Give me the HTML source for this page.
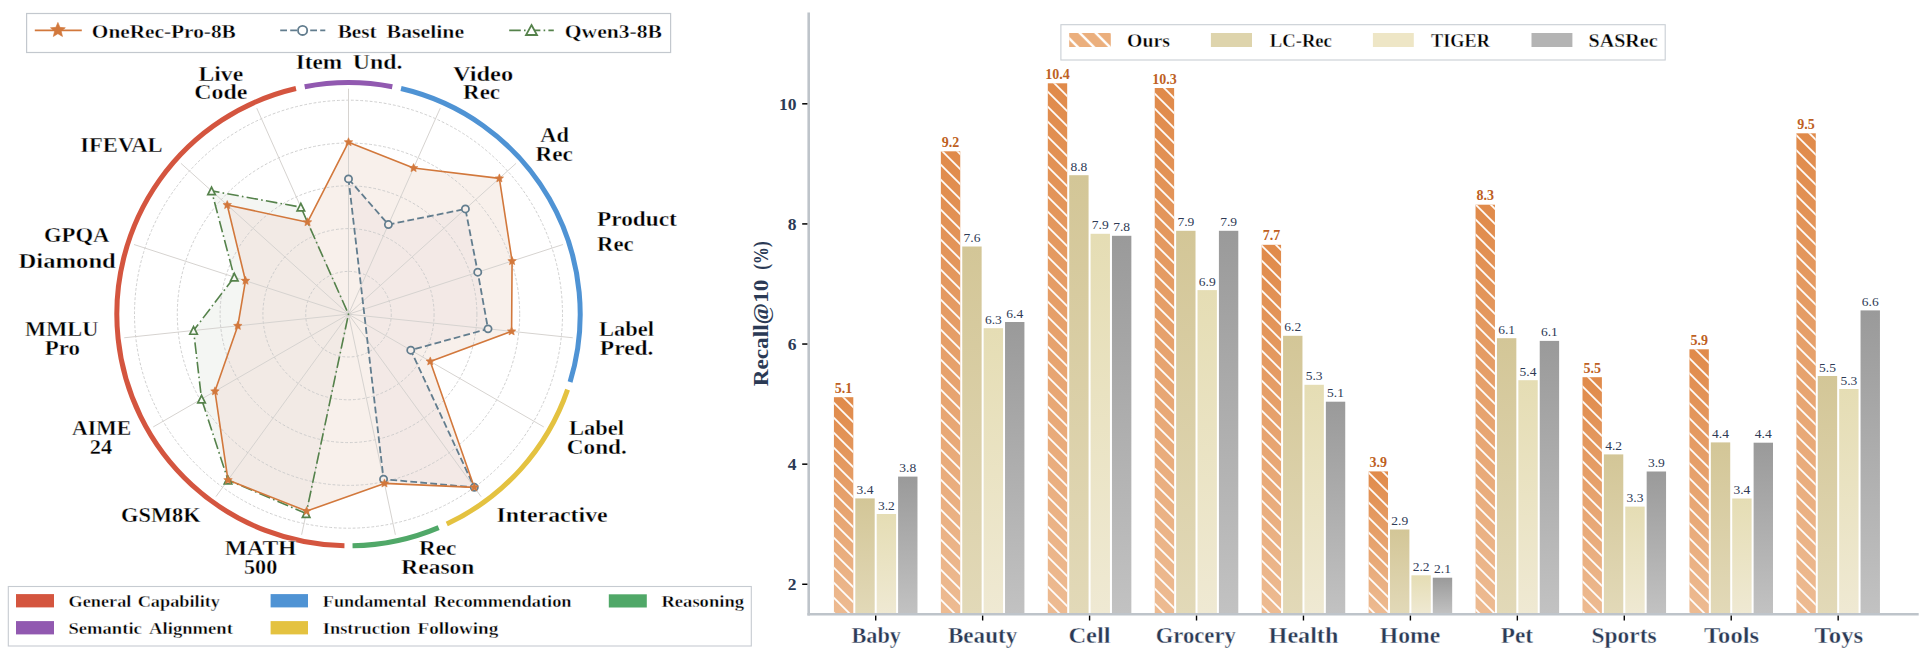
<!DOCTYPE html>
<html><head><meta charset="utf-8"><style>
html,body{margin:0;padding:0;background:#fff;}
svg{display:block;}
text{font-family:"Liberation Serif", serif;}
</style></head><body>
<svg width="1926" height="652" viewBox="0 0 1926 652">
<rect width="1926" height="652" fill="#fff"/>
<defs>
<clipPath id="qclip"><path d="M306.13,513.55 L228.00,480.05 L201.54,399.05 L193.55,330.49 L234.28,277.09 L211.54,190.88 L300.83,207.13 L348.50,314.20 Z"/></clipPath>
<linearGradient id="g0" x1="0" y1="0" x2="0" y2="1"><stop offset="0" stop-color="#e08a4a"/><stop offset="1" stop-color="#edbb92"/></linearGradient>
<linearGradient id="g1" x1="0" y1="0" x2="0" y2="1"><stop offset="0" stop-color="#d3c697"/><stop offset="1" stop-color="#e2d9b8"/></linearGradient>
<linearGradient id="g2" x1="0" y1="0" x2="0" y2="1"><stop offset="0" stop-color="#e5ddb4"/><stop offset="1" stop-color="#efe9d3"/></linearGradient>
<linearGradient id="g3" x1="0" y1="0" x2="0" y2="1"><stop offset="0" stop-color="#9a9a9a"/><stop offset="1" stop-color="#c2c2c2"/></linearGradient>
<pattern id="hatch" patternUnits="userSpaceOnUse" width="15.0" height="15.0" x="0" y="3.9"><path d="M-2,-2 L17.0,17.0 M-17.0,-2 L2,17.0" stroke="#fff" stroke-width="1.7"/><path d="M13.0,-2 L32.0,17.0" stroke="#fff" stroke-width="1.7"/></pattern>
<pattern id="hatchL" patternUnits="userSpaceOnUse" width="16" height="16" x="0" y="9.2"><path d="M-2,-2 L18,18 M-18,-2 L2,18 M14,-2 L34,18" stroke="#fff" stroke-width="2.4"/></pattern>
</defs>
<path d="M348.50,142.20 L413.58,168.03 L499.36,178.37 L512.08,261.05 L511.60,331.34 L430.25,361.40 L474.29,487.33 L384.47,483.42 L306.65,511.10 L228.00,480.05 L214.96,391.30 L237.81,325.83 L245.50,280.73 L227.22,205.00 L307.54,222.21 Z" fill="#f8f0eb"/>
<path d="M306.13,513.55 L228.00,480.05 L201.54,399.05 L193.55,330.49 L234.28,277.09 L211.54,190.88 L300.83,207.13 L348.50,314.20 Z" fill="#f4f6f3"/>
<path d="M348.50,142.20 L413.58,168.03 L499.36,178.37 L512.08,261.05 L511.60,331.34 L430.25,361.40 L474.29,487.33 L384.47,483.42 L306.65,511.10 L228.00,480.05 L214.96,391.30 L237.81,325.83 L245.50,280.73 L227.22,205.00 L307.54,222.21 Z" fill="#f2eae5" clip-path="url(#qclip)"/>
<path d="M348.50,178.90 L388.40,224.58 L465.40,208.95 L477.75,272.20 L488.03,328.87 L410.77,350.15 L474.29,487.33 L383.57,479.21 Z" fill="#f3e9e6"/>
<circle cx="348.5" cy="314.2" r="42.80" fill="none" stroke="#c9c9c9" stroke-width="0.9" stroke-dasharray="2.8 1.9"/>
<circle cx="348.5" cy="314.2" r="85.60" fill="none" stroke="#c9c9c9" stroke-width="0.9" stroke-dasharray="2.8 1.9"/>
<circle cx="348.5" cy="314.2" r="128.40" fill="none" stroke="#c9c9c9" stroke-width="0.9" stroke-dasharray="2.8 1.9"/>
<circle cx="348.5" cy="314.2" r="171.20" fill="none" stroke="#c9c9c9" stroke-width="0.9" stroke-dasharray="2.8 1.9"/>
<circle cx="348.5" cy="314.2" r="214.00" fill="none" stroke="#c9c9c9" stroke-width="0.9" stroke-dasharray="2.8 1.9"/>
<line x1="348.5" y1="314.2" x2="348.50" y2="88.70" stroke="#d6d3d0" stroke-width="1"/>
<line x1="348.5" y1="314.2" x2="440.22" y2="108.20" stroke="#d6d3d0" stroke-width="1"/>
<line x1="348.5" y1="314.2" x2="516.08" y2="163.31" stroke="#d6d3d0" stroke-width="1"/>
<line x1="348.5" y1="314.2" x2="562.96" y2="244.52" stroke="#d6d3d0" stroke-width="1"/>
<line x1="348.5" y1="314.2" x2="572.76" y2="337.77" stroke="#d6d3d0" stroke-width="1"/>
<line x1="348.5" y1="314.2" x2="543.79" y2="426.95" stroke="#d6d3d0" stroke-width="1"/>
<line x1="348.5" y1="314.2" x2="481.05" y2="496.63" stroke="#d6d3d0" stroke-width="1"/>
<line x1="348.5" y1="314.2" x2="395.38" y2="534.77" stroke="#d6d3d0" stroke-width="1"/>
<line x1="348.5" y1="314.2" x2="301.62" y2="534.77" stroke="#d6d3d0" stroke-width="1"/>
<line x1="348.5" y1="314.2" x2="215.95" y2="496.63" stroke="#d6d3d0" stroke-width="1"/>
<line x1="348.5" y1="314.2" x2="153.21" y2="426.95" stroke="#d6d3d0" stroke-width="1"/>
<line x1="348.5" y1="314.2" x2="124.24" y2="337.77" stroke="#d6d3d0" stroke-width="1"/>
<line x1="348.5" y1="314.2" x2="134.04" y2="244.52" stroke="#d6d3d0" stroke-width="1"/>
<line x1="348.5" y1="314.2" x2="180.92" y2="163.31" stroke="#d6d3d0" stroke-width="1"/>
<line x1="348.5" y1="314.2" x2="256.78" y2="108.20" stroke="#d6d3d0" stroke-width="1"/>
<path d="M304.69,86.68 A231.7,231.7 0 0 1 392.31,86.68" fill="none" stroke="#9159b0" stroke-width="5"/>
<path d="M401.02,88.53 A231.7,231.7 0 0 1 570.08,381.94" fill="none" stroke="#4f93d4" stroke-width="5"/>
<path d="M567.58,389.63 A231.7,231.7 0 0 1 446.79,524.02" fill="none" stroke="#e4c240" stroke-width="5"/>
<path d="M438.66,527.64 A231.7,231.7 0 0 1 352.54,545.86" fill="none" stroke="#50a868" stroke-width="5"/>
<path d="M344.46,545.86 A231.7,231.7 0 0 1 295.98,88.53" fill="none" stroke="#d4553f" stroke-width="5"/>
<path d="M306.13,513.55 L228.00,480.05 L201.54,399.05 L193.55,330.49 L234.28,277.09 L211.54,190.88 L300.83,207.13 L348.50,314.20 Z" fill="none" stroke="#55824b" stroke-width="1.6" stroke-dasharray="11.6 3.2 1.6 3.2" stroke-linejoin="round"/>
<path d="M348.50,178.90 L388.40,224.58 L465.40,208.95 L477.75,272.20 L488.03,328.87 L410.77,350.15 L474.29,487.33 L383.57,479.21 Z" fill="none" stroke="#627d8e" stroke-width="1.8" stroke-dasharray="6.8 3.2" stroke-linejoin="round"/>
<path d="M348.50,142.20 L413.58,168.03 L499.36,178.37 L512.08,261.05 L511.60,331.34 L430.25,361.40 L474.29,487.33 L384.47,483.42 L306.65,511.10 L228.00,480.05 L214.96,391.30 L237.81,325.83 L245.50,280.73 L227.22,205.00 L307.54,222.21 Z" fill="none" stroke="#d2783c" stroke-width="1.6" stroke-linejoin="round"/>
<path d="M306.13,509.80 L309.88,517.30 L302.38,517.30 Z" fill="#f8f9f6" stroke="#55824b" stroke-width="1.7" stroke-linejoin="miter"/>
<path d="M228.00,476.30 L231.75,483.80 L224.25,483.80 Z" fill="#f8f9f6" stroke="#55824b" stroke-width="1.7" stroke-linejoin="miter"/>
<path d="M201.54,395.30 L205.29,402.80 L197.79,402.80 Z" fill="#f8f9f6" stroke="#55824b" stroke-width="1.7" stroke-linejoin="miter"/>
<path d="M193.55,326.74 L197.30,334.24 L189.80,334.24 Z" fill="#f8f9f6" stroke="#55824b" stroke-width="1.7" stroke-linejoin="miter"/>
<path d="M234.28,273.34 L238.03,280.84 L230.53,280.84 Z" fill="#f8f9f6" stroke="#55824b" stroke-width="1.7" stroke-linejoin="miter"/>
<path d="M211.54,187.13 L215.29,194.63 L207.79,194.63 Z" fill="#f8f9f6" stroke="#55824b" stroke-width="1.7" stroke-linejoin="miter"/>
<path d="M300.83,203.38 L304.58,210.88 L297.08,210.88 Z" fill="#f8f9f6" stroke="#55824b" stroke-width="1.7" stroke-linejoin="miter"/>
<circle cx="348.50" cy="178.90" r="3.6" fill="#f6eeea" stroke="#627d8e" stroke-width="1.75"/>
<circle cx="388.40" cy="224.58" r="3.6" fill="#f6eeea" stroke="#627d8e" stroke-width="1.75"/>
<circle cx="465.40" cy="208.95" r="3.6" fill="#f6eeea" stroke="#627d8e" stroke-width="1.75"/>
<circle cx="477.75" cy="272.20" r="3.6" fill="#f6eeea" stroke="#627d8e" stroke-width="1.75"/>
<circle cx="488.03" cy="328.87" r="3.6" fill="#f6eeea" stroke="#627d8e" stroke-width="1.75"/>
<circle cx="410.77" cy="350.15" r="3.6" fill="#f6eeea" stroke="#627d8e" stroke-width="1.75"/>
<circle cx="474.29" cy="487.33" r="3.6" fill="#f6eeea" stroke="#627d8e" stroke-width="1.75"/>
<circle cx="383.57" cy="479.21" r="3.6" fill="#f6eeea" stroke="#627d8e" stroke-width="1.75"/>
<path d="M348.50,137.70 L349.74,140.49 L352.78,140.81 L350.51,142.85 L351.15,145.84 L348.50,144.31 L345.85,145.84 L346.49,142.85 L344.22,140.81 L347.26,140.49 Z" fill="#d2783c" stroke="#d2783c" stroke-width="0.5" stroke-linejoin="round"/>
<path d="M413.58,163.53 L414.82,166.32 L417.86,166.64 L415.59,168.69 L416.22,171.67 L413.58,170.15 L410.93,171.67 L411.57,168.69 L409.30,166.64 L412.33,166.32 Z" fill="#d2783c" stroke="#d2783c" stroke-width="0.5" stroke-linejoin="round"/>
<path d="M499.36,173.87 L500.60,176.66 L503.64,176.98 L501.37,179.02 L502.00,182.01 L499.36,180.48 L496.71,182.01 L497.35,179.02 L495.08,176.98 L498.12,176.66 Z" fill="#d2783c" stroke="#d2783c" stroke-width="0.5" stroke-linejoin="round"/>
<path d="M512.08,256.55 L513.32,259.34 L516.36,259.66 L514.09,261.70 L514.73,264.69 L512.08,263.16 L509.44,264.69 L510.07,261.70 L507.80,259.66 L510.84,259.34 Z" fill="#d2783c" stroke="#d2783c" stroke-width="0.5" stroke-linejoin="round"/>
<path d="M511.60,326.84 L512.84,329.63 L515.88,329.95 L513.61,332.00 L514.25,334.98 L511.60,333.46 L508.96,334.98 L509.59,332.00 L507.32,329.95 L510.36,329.63 Z" fill="#d2783c" stroke="#d2783c" stroke-width="0.5" stroke-linejoin="round"/>
<path d="M430.25,356.90 L431.50,359.69 L434.53,360.01 L432.26,362.05 L432.90,365.04 L430.25,363.51 L427.61,365.04 L428.24,362.05 L425.97,360.01 L429.01,359.69 Z" fill="#d2783c" stroke="#d2783c" stroke-width="0.5" stroke-linejoin="round"/>
<path d="M474.29,482.83 L475.53,485.62 L478.57,485.94 L476.30,487.98 L476.93,490.97 L474.29,489.44 L471.64,490.97 L472.27,487.98 L470.01,485.94 L473.04,485.62 Z" fill="#d2783c" stroke="#d2783c" stroke-width="0.5" stroke-linejoin="round"/>
<path d="M384.47,478.92 L385.71,481.71 L388.75,482.03 L386.48,484.07 L387.11,487.06 L384.47,485.53 L381.82,487.06 L382.46,484.07 L380.19,482.03 L383.23,481.71 Z" fill="#d2783c" stroke="#d2783c" stroke-width="0.5" stroke-linejoin="round"/>
<path d="M306.65,506.60 L307.89,509.39 L310.93,509.71 L308.66,511.75 L309.29,514.74 L306.65,513.22 L304.00,514.74 L304.64,511.75 L302.37,509.71 L305.40,509.39 Z" fill="#d2783c" stroke="#d2783c" stroke-width="0.5" stroke-linejoin="round"/>
<path d="M228.00,475.55 L229.25,478.34 L232.28,478.66 L230.02,480.70 L230.65,483.69 L228.00,482.16 L225.36,483.69 L225.99,480.70 L223.72,478.66 L226.76,478.34 Z" fill="#d2783c" stroke="#d2783c" stroke-width="0.5" stroke-linejoin="round"/>
<path d="M214.96,386.80 L216.20,389.59 L219.24,389.91 L216.97,391.95 L217.60,394.94 L214.96,393.42 L212.31,394.94 L212.95,391.95 L210.68,389.91 L213.72,389.59 Z" fill="#d2783c" stroke="#d2783c" stroke-width="0.5" stroke-linejoin="round"/>
<path d="M237.81,321.33 L239.05,324.12 L242.09,324.44 L239.82,326.49 L240.45,329.47 L237.81,327.95 L235.16,329.47 L235.80,326.49 L233.53,324.44 L236.57,324.12 Z" fill="#d2783c" stroke="#d2783c" stroke-width="0.5" stroke-linejoin="round"/>
<path d="M245.50,276.23 L246.74,279.02 L249.78,279.34 L247.51,281.39 L248.15,284.37 L245.50,282.85 L242.86,284.37 L243.49,281.39 L241.22,279.34 L244.26,279.02 Z" fill="#d2783c" stroke="#d2783c" stroke-width="0.5" stroke-linejoin="round"/>
<path d="M227.22,200.50 L228.46,203.29 L231.50,203.61 L229.23,205.65 L229.86,208.64 L227.22,207.11 L224.57,208.64 L225.21,205.65 L222.94,203.61 L225.98,203.29 Z" fill="#d2783c" stroke="#d2783c" stroke-width="0.5" stroke-linejoin="round"/>
<path d="M307.54,217.71 L308.78,220.49 L311.82,220.82 L309.55,222.86 L310.19,225.85 L307.54,224.32 L304.90,225.85 L305.53,222.86 L303.26,220.82 L306.30,220.49 Z" fill="#d2783c" stroke="#d2783c" stroke-width="0.5" stroke-linejoin="round"/>
<rect x="26.6" y="13.5" width="644.0" height="39.0" fill="#fff" fill-opacity="0.9" stroke="#c3c8ce" stroke-width="1.2"/>
<line x1="34.8" y1="30.4" x2="81.8" y2="30.4" stroke="#d2783c" stroke-width="1.6"/>
<path d="M57.90,22.40 L59.96,27.36 L65.32,27.79 L61.24,31.28 L62.48,36.51 L57.90,33.71 L53.32,36.51 L54.56,31.28 L50.48,27.79 L55.84,27.36 Z" fill="#d2783c" stroke="#d2783c" stroke-width="0.6" stroke-linejoin="round"/>
<line x1="280.2" y1="30.4" x2="325.3" y2="30.4" stroke="#627d8e" stroke-width="1.6" stroke-dasharray="6.8 3.2"/>
<circle cx="302.6" cy="30.4" r="4.6" fill="#fff" stroke="#627d8e" stroke-width="1.8"/>
<line x1="509.2" y1="30.4" x2="553.8" y2="30.4" stroke="#55824b" stroke-width="1.6" stroke-dasharray="11.6 3.2 1.6 3.2"/>
<path d="M531.5,25 L537,35 L526,35 Z" fill="#fff" stroke="#55824b" stroke-width="1.8"/>
<rect x="8.3" y="586.5" width="743.0" height="59.5" fill="#fff" fill-opacity="0.9" stroke="#c6cbd1" stroke-width="1.1"/>
<rect x="16" y="594.1" width="38.0" height="13.3" fill="#d4553f"/>
<rect x="16" y="621.1" width="38.0" height="13.3" fill="#9159b0"/>
<rect x="270.6" y="594.1" width="37.4" height="13.3" fill="#4f93d4"/>
<rect x="270.6" y="621.1" width="37.4" height="13.3" fill="#e4c240"/>
<rect x="608.8" y="594.3" width="38.0" height="13.2" fill="#50a868"/>
<rect x="833.92" y="397.20" width="19.39" height="217.00" fill="url(#g0)"/>
<rect x="833.92" y="397.20" width="19.39" height="217.00" fill="url(#hatch)"/>
<text x="843.62" y="392.70" text-anchor="middle" font-family="Liberation Serif" font-weight="bold" font-size="14" fill="#be5f23">5.1</text>
<rect x="855.31" y="498.40" width="19.39" height="115.80" fill="url(#g1)"/>
<text x="865.01" y="493.90" text-anchor="middle" font-family="Liberation Serif" font-size="13.5" fill="#2e3a55">3.4</text>
<rect x="876.70" y="514.00" width="19.39" height="100.20" fill="url(#g2)"/>
<text x="886.39" y="509.50" text-anchor="middle" font-family="Liberation Serif" font-size="13.5" fill="#2e3a55">3.2</text>
<rect x="898.09" y="476.60" width="19.39" height="137.60" fill="url(#g3)"/>
<text x="907.78" y="472.10" text-anchor="middle" font-family="Liberation Serif" font-size="13.5" fill="#2e3a55">3.8</text>
<line x1="875.70" y1="615.3" x2="875.70" y2="620.5" stroke="#000" stroke-width="1.4"/>
<rect x="940.86" y="151.30" width="19.39" height="462.90" fill="url(#g0)"/>
<rect x="940.86" y="151.30" width="19.39" height="462.90" fill="url(#hatch)"/>
<text x="950.56" y="146.80" text-anchor="middle" font-family="Liberation Serif" font-weight="bold" font-size="14" fill="#be5f23">9.2</text>
<rect x="962.25" y="246.50" width="19.39" height="367.70" fill="url(#g1)"/>
<text x="971.95" y="242.00" text-anchor="middle" font-family="Liberation Serif" font-size="13.5" fill="#2e3a55">7.6</text>
<rect x="983.64" y="328.20" width="19.39" height="286.00" fill="url(#g2)"/>
<text x="993.33" y="323.70" text-anchor="middle" font-family="Liberation Serif" font-size="13.5" fill="#2e3a55">6.3</text>
<rect x="1005.03" y="322.00" width="19.39" height="292.20" fill="url(#g3)"/>
<text x="1014.72" y="317.50" text-anchor="middle" font-family="Liberation Serif" font-size="13.5" fill="#2e3a55">6.4</text>
<line x1="982.64" y1="615.3" x2="982.64" y2="620.5" stroke="#000" stroke-width="1.4"/>
<rect x="1047.80" y="83.30" width="19.39" height="530.90" fill="url(#g0)"/>
<rect x="1047.80" y="83.30" width="19.39" height="530.90" fill="url(#hatch)"/>
<text x="1057.50" y="78.80" text-anchor="middle" font-family="Liberation Serif" font-weight="bold" font-size="14" fill="#be5f23">10.4</text>
<rect x="1069.19" y="175.20" width="19.39" height="439.00" fill="url(#g1)"/>
<text x="1078.89" y="170.70" text-anchor="middle" font-family="Liberation Serif" font-size="13.5" fill="#2e3a55">8.8</text>
<rect x="1090.58" y="233.80" width="19.39" height="380.40" fill="url(#g2)"/>
<text x="1100.27" y="229.30" text-anchor="middle" font-family="Liberation Serif" font-size="13.5" fill="#2e3a55">7.9</text>
<rect x="1111.97" y="235.80" width="19.39" height="378.40" fill="url(#g3)"/>
<text x="1121.66" y="231.30" text-anchor="middle" font-family="Liberation Serif" font-size="13.5" fill="#2e3a55">7.8</text>
<line x1="1089.58" y1="615.3" x2="1089.58" y2="620.5" stroke="#000" stroke-width="1.4"/>
<rect x="1154.74" y="88.00" width="19.39" height="526.20" fill="url(#g0)"/>
<rect x="1154.74" y="88.00" width="19.39" height="526.20" fill="url(#hatch)"/>
<text x="1164.44" y="83.50" text-anchor="middle" font-family="Liberation Serif" font-weight="bold" font-size="14" fill="#be5f23">10.3</text>
<rect x="1176.13" y="230.80" width="19.39" height="383.40" fill="url(#g1)"/>
<text x="1185.83" y="226.30" text-anchor="middle" font-family="Liberation Serif" font-size="13.5" fill="#2e3a55">7.9</text>
<rect x="1197.52" y="290.10" width="19.39" height="324.10" fill="url(#g2)"/>
<text x="1207.21" y="285.60" text-anchor="middle" font-family="Liberation Serif" font-size="13.5" fill="#2e3a55">6.9</text>
<rect x="1218.91" y="230.80" width="19.39" height="383.40" fill="url(#g3)"/>
<text x="1228.60" y="226.30" text-anchor="middle" font-family="Liberation Serif" font-size="13.5" fill="#2e3a55">7.9</text>
<line x1="1196.52" y1="615.3" x2="1196.52" y2="620.5" stroke="#000" stroke-width="1.4"/>
<rect x="1261.68" y="244.80" width="19.39" height="369.40" fill="url(#g0)"/>
<rect x="1261.68" y="244.80" width="19.39" height="369.40" fill="url(#hatch)"/>
<text x="1271.38" y="240.30" text-anchor="middle" font-family="Liberation Serif" font-weight="bold" font-size="14" fill="#be5f23">7.7</text>
<rect x="1283.07" y="335.80" width="19.39" height="278.40" fill="url(#g1)"/>
<text x="1292.77" y="331.30" text-anchor="middle" font-family="Liberation Serif" font-size="13.5" fill="#2e3a55">6.2</text>
<rect x="1304.46" y="384.80" width="19.39" height="229.40" fill="url(#g2)"/>
<text x="1314.15" y="380.30" text-anchor="middle" font-family="Liberation Serif" font-size="13.5" fill="#2e3a55">5.3</text>
<rect x="1325.85" y="401.70" width="19.39" height="212.50" fill="url(#g3)"/>
<text x="1335.54" y="397.20" text-anchor="middle" font-family="Liberation Serif" font-size="13.5" fill="#2e3a55">5.1</text>
<line x1="1303.46" y1="615.3" x2="1303.46" y2="620.5" stroke="#000" stroke-width="1.4"/>
<rect x="1368.62" y="471.40" width="19.39" height="142.80" fill="url(#g0)"/>
<rect x="1368.62" y="471.40" width="19.39" height="142.80" fill="url(#hatch)"/>
<text x="1378.32" y="466.90" text-anchor="middle" font-family="Liberation Serif" font-weight="bold" font-size="14" fill="#be5f23">3.9</text>
<rect x="1390.01" y="529.50" width="19.39" height="84.70" fill="url(#g1)"/>
<text x="1399.71" y="525.00" text-anchor="middle" font-family="Liberation Serif" font-size="13.5" fill="#2e3a55">2.9</text>
<rect x="1411.40" y="575.30" width="19.39" height="38.90" fill="url(#g2)"/>
<text x="1421.09" y="570.80" text-anchor="middle" font-family="Liberation Serif" font-size="13.5" fill="#2e3a55">2.2</text>
<rect x="1432.79" y="577.70" width="19.39" height="36.50" fill="url(#g3)"/>
<text x="1442.48" y="573.20" text-anchor="middle" font-family="Liberation Serif" font-size="13.5" fill="#2e3a55">2.1</text>
<line x1="1410.40" y1="615.3" x2="1410.40" y2="620.5" stroke="#000" stroke-width="1.4"/>
<rect x="1475.56" y="204.70" width="19.39" height="409.50" fill="url(#g0)"/>
<rect x="1475.56" y="204.70" width="19.39" height="409.50" fill="url(#hatch)"/>
<text x="1485.26" y="200.20" text-anchor="middle" font-family="Liberation Serif" font-weight="bold" font-size="14" fill="#be5f23">8.3</text>
<rect x="1496.95" y="338.20" width="19.39" height="276.00" fill="url(#g1)"/>
<text x="1506.65" y="333.70" text-anchor="middle" font-family="Liberation Serif" font-size="13.5" fill="#2e3a55">6.1</text>
<rect x="1518.34" y="380.20" width="19.39" height="234.00" fill="url(#g2)"/>
<text x="1528.03" y="375.70" text-anchor="middle" font-family="Liberation Serif" font-size="13.5" fill="#2e3a55">5.4</text>
<rect x="1539.73" y="340.90" width="19.39" height="273.30" fill="url(#g3)"/>
<text x="1549.42" y="336.40" text-anchor="middle" font-family="Liberation Serif" font-size="13.5" fill="#2e3a55">6.1</text>
<line x1="1517.34" y1="615.3" x2="1517.34" y2="620.5" stroke="#000" stroke-width="1.4"/>
<rect x="1582.50" y="377.20" width="19.39" height="237.00" fill="url(#g0)"/>
<rect x="1582.50" y="377.20" width="19.39" height="237.00" fill="url(#hatch)"/>
<text x="1592.20" y="372.70" text-anchor="middle" font-family="Liberation Serif" font-weight="bold" font-size="14" fill="#be5f23">5.5</text>
<rect x="1603.89" y="454.40" width="19.39" height="159.80" fill="url(#g1)"/>
<text x="1613.59" y="449.90" text-anchor="middle" font-family="Liberation Serif" font-size="13.5" fill="#2e3a55">4.2</text>
<rect x="1625.28" y="506.60" width="19.39" height="107.60" fill="url(#g2)"/>
<text x="1634.97" y="502.10" text-anchor="middle" font-family="Liberation Serif" font-size="13.5" fill="#2e3a55">3.3</text>
<rect x="1646.67" y="471.50" width="19.39" height="142.70" fill="url(#g3)"/>
<text x="1656.36" y="467.00" text-anchor="middle" font-family="Liberation Serif" font-size="13.5" fill="#2e3a55">3.9</text>
<line x1="1624.28" y1="615.3" x2="1624.28" y2="620.5" stroke="#000" stroke-width="1.4"/>
<rect x="1689.44" y="349.30" width="19.39" height="264.90" fill="url(#g0)"/>
<rect x="1689.44" y="349.30" width="19.39" height="264.90" fill="url(#hatch)"/>
<text x="1699.14" y="344.80" text-anchor="middle" font-family="Liberation Serif" font-weight="bold" font-size="14" fill="#be5f23">5.9</text>
<rect x="1710.83" y="442.40" width="19.39" height="171.80" fill="url(#g1)"/>
<text x="1720.53" y="437.90" text-anchor="middle" font-family="Liberation Serif" font-size="13.5" fill="#2e3a55">4.4</text>
<rect x="1732.22" y="498.50" width="19.39" height="115.70" fill="url(#g2)"/>
<text x="1741.91" y="494.00" text-anchor="middle" font-family="Liberation Serif" font-size="13.5" fill="#2e3a55">3.4</text>
<rect x="1753.61" y="442.70" width="19.39" height="171.50" fill="url(#g3)"/>
<text x="1763.30" y="438.20" text-anchor="middle" font-family="Liberation Serif" font-size="13.5" fill="#2e3a55">4.4</text>
<line x1="1731.22" y1="615.3" x2="1731.22" y2="620.5" stroke="#000" stroke-width="1.4"/>
<rect x="1796.38" y="133.30" width="19.39" height="480.90" fill="url(#g0)"/>
<rect x="1796.38" y="133.30" width="19.39" height="480.90" fill="url(#hatch)"/>
<text x="1806.08" y="128.80" text-anchor="middle" font-family="Liberation Serif" font-weight="bold" font-size="14" fill="#be5f23">9.5</text>
<rect x="1817.77" y="376.00" width="19.39" height="238.20" fill="url(#g1)"/>
<text x="1827.47" y="371.50" text-anchor="middle" font-family="Liberation Serif" font-size="13.5" fill="#2e3a55">5.5</text>
<rect x="1839.16" y="389.00" width="19.39" height="225.20" fill="url(#g2)"/>
<text x="1848.85" y="384.50" text-anchor="middle" font-family="Liberation Serif" font-size="13.5" fill="#2e3a55">5.3</text>
<rect x="1860.55" y="310.40" width="19.39" height="303.80" fill="url(#g3)"/>
<text x="1870.24" y="305.90" text-anchor="middle" font-family="Liberation Serif" font-size="13.5" fill="#2e3a55">6.6</text>
<line x1="1838.16" y1="615.3" x2="1838.16" y2="620.5" stroke="#000" stroke-width="1.4"/>
<line x1="808.7" y1="12.5" x2="808.7" y2="615.4" stroke="#bec4ca" stroke-width="2.6"/>
<line x1="807.4" y1="614.2" x2="1918.7" y2="614.2" stroke="#bec4ca" stroke-width="2.6"/>
<line x1="802.2" y1="584.28" x2="807.4" y2="584.28" stroke="#000" stroke-width="1.5"/>
<text x="796.4" y="590.18" text-anchor="end" font-family="Liberation Serif" font-weight="bold" font-size="17.5" fill="#2b3a55">2</text>
<line x1="802.2" y1="464.16" x2="807.4" y2="464.16" stroke="#000" stroke-width="1.5"/>
<text x="796.4" y="470.06" text-anchor="end" font-family="Liberation Serif" font-weight="bold" font-size="17.5" fill="#2b3a55">4</text>
<line x1="802.2" y1="344.04" x2="807.4" y2="344.04" stroke="#000" stroke-width="1.5"/>
<text x="796.4" y="349.94" text-anchor="end" font-family="Liberation Serif" font-weight="bold" font-size="17.5" fill="#2b3a55">6</text>
<line x1="802.2" y1="223.92" x2="807.4" y2="223.92" stroke="#000" stroke-width="1.5"/>
<text x="796.4" y="229.82" text-anchor="end" font-family="Liberation Serif" font-weight="bold" font-size="17.5" fill="#2b3a55">8</text>
<line x1="802.2" y1="103.80" x2="807.4" y2="103.80" stroke="#000" stroke-width="1.5"/>
<text x="796.4" y="109.70" text-anchor="end" font-family="Liberation Serif" font-weight="bold" font-size="17.5" fill="#2b3a55">10</text>
<rect x="1060.9" y="24.7" width="604.3" height="35.3" fill="#fff" fill-opacity="0.9" stroke="#c9ced4" stroke-width="1.1"/>
<rect x="1069.2" y="33" width="41.6" height="14" fill="#ebaf7d"/>
<rect x="1069.2" y="33" width="41.6" height="14" fill="url(#hatchL)"/>
<rect x="1210.9" y="33" width="41.1" height="14" fill="#ded4ac"/>
<rect x="1372.9" y="33" width="40.9" height="14" fill="#eee6c6"/>
<rect x="1531.5" y="33" width="40.9" height="14" fill="#b4b4b4"/>
<text x="295.74" y="68.70" font-family="Liberation Serif" font-size="22" font-weight="bold" fill="#000" textLength="46.44" lengthAdjust="spacingAndGlyphs" stroke="#fff" stroke-width="0.35">Item</text>
<text x="352.72" y="68.70" font-family="Liberation Serif" font-size="22" font-weight="bold" fill="#000" textLength="49.72" lengthAdjust="spacingAndGlyphs" stroke="#fff" stroke-width="0.35">Und.</text>
<text x="198.53" y="80.50" font-family="Liberation Serif" font-size="22" font-weight="bold" fill="#000" textLength="44.68" lengthAdjust="spacingAndGlyphs" stroke="#fff" stroke-width="0.35">Live</text>
<text x="194.21" y="99.20" font-family="Liberation Serif" font-size="22" font-weight="bold" fill="#000" textLength="53.16" lengthAdjust="spacingAndGlyphs" stroke="#fff" stroke-width="0.35">Code</text>
<text x="452.90" y="80.50" font-family="Liberation Serif" font-size="22" font-weight="bold" fill="#000" textLength="60.22" lengthAdjust="spacingAndGlyphs" stroke="#fff" stroke-width="0.35">Video</text>
<text x="463.06" y="99.20" font-family="Liberation Serif" font-size="22" font-weight="bold" fill="#000" textLength="36.98" lengthAdjust="spacingAndGlyphs" stroke="#fff" stroke-width="0.35">Rec</text>
<text x="540.30" y="141.80" font-family="Liberation Serif" font-size="22" font-weight="bold" fill="#000" textLength="28.63" lengthAdjust="spacingAndGlyphs" stroke="#fff" stroke-width="0.35">Ad</text>
<text x="535.54" y="160.60" font-family="Liberation Serif" font-size="22" font-weight="bold" fill="#000" textLength="37.40" lengthAdjust="spacingAndGlyphs" stroke="#fff" stroke-width="0.35">Rec</text>
<text x="597.04" y="225.90" font-family="Liberation Serif" font-size="22" font-weight="bold" fill="#000" textLength="79.86" lengthAdjust="spacingAndGlyphs" stroke="#fff" stroke-width="0.35">Product</text>
<text x="597.07" y="250.80" font-family="Liberation Serif" font-size="22" font-weight="bold" fill="#000" textLength="36.57" lengthAdjust="spacingAndGlyphs" stroke="#fff" stroke-width="0.35">Rec</text>
<text x="599.08" y="335.90" font-family="Liberation Serif" font-size="22" font-weight="bold" fill="#000" textLength="54.93" lengthAdjust="spacingAndGlyphs" stroke="#fff" stroke-width="0.35">Label</text>
<text x="599.83" y="354.90" font-family="Liberation Serif" font-size="22" font-weight="bold" fill="#000" textLength="53.67" lengthAdjust="spacingAndGlyphs" stroke="#fff" stroke-width="0.35">Pred.</text>
<text x="569.08" y="434.90" font-family="Liberation Serif" font-size="22" font-weight="bold" fill="#000" textLength="54.93" lengthAdjust="spacingAndGlyphs" stroke="#fff" stroke-width="0.35">Label</text>
<text x="566.74" y="453.90" font-family="Liberation Serif" font-size="22" font-weight="bold" fill="#000" textLength="60.06" lengthAdjust="spacingAndGlyphs" stroke="#fff" stroke-width="0.35">Cond.</text>
<text x="496.52" y="521.90" font-family="Liberation Serif" font-size="22" font-weight="bold" fill="#000" textLength="111.16" lengthAdjust="spacingAndGlyphs" stroke="#fff" stroke-width="0.35">Interactive</text>
<text x="418.94" y="555.00" font-family="Liberation Serif" font-size="22" font-weight="bold" fill="#000" textLength="37.40" lengthAdjust="spacingAndGlyphs" stroke="#fff" stroke-width="0.35">Rec</text>
<text x="401.33" y="573.70" font-family="Liberation Serif" font-size="22" font-weight="bold" fill="#000" textLength="72.95" lengthAdjust="spacingAndGlyphs" stroke="#fff" stroke-width="0.35">Reason</text>
<text x="224.83" y="554.90" font-family="Liberation Serif" font-size="22" font-weight="bold" fill="#000" textLength="71.64" lengthAdjust="spacingAndGlyphs" stroke="#fff" stroke-width="0.35">MATH</text>
<text x="243.99" y="573.50" font-family="Liberation Serif" font-size="22" font-weight="bold" fill="#000" textLength="33.32" lengthAdjust="spacingAndGlyphs" stroke="#fff" stroke-width="0.35">500</text>
<text x="121.08" y="521.70" font-family="Liberation Serif" font-size="22" font-weight="bold" fill="#000" textLength="79.56" lengthAdjust="spacingAndGlyphs" stroke="#fff" stroke-width="0.35">GSM8K</text>
<text x="72.10" y="434.90" font-family="Liberation Serif" font-size="22" font-weight="bold" fill="#000" textLength="59.18" lengthAdjust="spacingAndGlyphs" stroke="#fff" stroke-width="0.35">AIME</text>
<text x="89.68" y="453.90" font-family="Liberation Serif" font-size="22" font-weight="bold" fill="#000" textLength="22.42" lengthAdjust="spacingAndGlyphs" stroke="#fff" stroke-width="0.35">24</text>
<text x="25.08" y="335.90" font-family="Liberation Serif" font-size="22" font-weight="bold" fill="#000" textLength="73.21" lengthAdjust="spacingAndGlyphs" stroke="#fff" stroke-width="0.35">MMLU</text>
<text x="44.66" y="354.60" font-family="Liberation Serif" font-size="22" font-weight="bold" fill="#000" textLength="35.19" lengthAdjust="spacingAndGlyphs" stroke="#fff" stroke-width="0.35">Pro</text>
<text x="43.97" y="241.90" font-family="Liberation Serif" font-size="22" font-weight="bold" fill="#000" textLength="65.51" lengthAdjust="spacingAndGlyphs" stroke="#fff" stroke-width="0.35">GPQA</text>
<text x="18.58" y="267.90" font-family="Liberation Serif" font-size="22" font-weight="bold" fill="#000" textLength="97.21" lengthAdjust="spacingAndGlyphs" stroke="#fff" stroke-width="0.35">Diamond</text>
<text x="80.27" y="151.60" font-family="Liberation Serif" font-size="22" font-weight="bold" fill="#000" textLength="82.36" lengthAdjust="spacingAndGlyphs" stroke="#fff" stroke-width="0.35">IFEVAL</text>
<text x="91.81" y="37.90" font-family="Liberation Serif" font-size="19.5" font-weight="bold" fill="#000" textLength="144.05" lengthAdjust="spacingAndGlyphs" stroke="#fff" stroke-width="0.35">OneRec-Pro-8B</text>
<text x="337.70" y="37.90" font-family="Liberation Serif" font-size="19.5" font-weight="bold" fill="#000" textLength="38.92" lengthAdjust="spacingAndGlyphs" stroke="#fff" stroke-width="0.35">Best</text>
<text x="386.60" y="37.90" font-family="Liberation Serif" font-size="19.5" font-weight="bold" fill="#000" textLength="77.48" lengthAdjust="spacingAndGlyphs" stroke="#fff" stroke-width="0.35">Baseline</text>
<text x="564.79" y="37.90" font-family="Liberation Serif" font-size="19.5" font-weight="bold" fill="#000" textLength="97.24" lengthAdjust="spacingAndGlyphs" stroke="#fff" stroke-width="0.35">Qwen3-8B</text>
<text x="68.55" y="607.00" font-family="Liberation Serif" font-size="17.4" font-weight="bold" fill="#000" textLength="62.78" lengthAdjust="spacingAndGlyphs" stroke="#fff" stroke-width="0.35">General</text>
<text x="137.65" y="607.00" font-family="Liberation Serif" font-size="17.4" font-weight="bold" fill="#000" textLength="82.35" lengthAdjust="spacingAndGlyphs" stroke="#fff" stroke-width="0.35">Capability</text>
<text x="68.53" y="634.00" font-family="Liberation Serif" font-size="17.4" font-weight="bold" fill="#000" textLength="73.30" lengthAdjust="spacingAndGlyphs" stroke="#fff" stroke-width="0.35">Semantic</text>
<text x="149.10" y="634.00" font-family="Liberation Serif" font-size="17.4" font-weight="bold" fill="#000" textLength="83.78" lengthAdjust="spacingAndGlyphs" stroke="#fff" stroke-width="0.35">Alignment</text>
<text x="322.86" y="607.00" font-family="Liberation Serif" font-size="17.4" font-weight="bold" fill="#000" textLength="103.80" lengthAdjust="spacingAndGlyphs" stroke="#fff" stroke-width="0.35">Fundamental</text>
<text x="433.84" y="607.00" font-family="Liberation Serif" font-size="17.4" font-weight="bold" fill="#000" textLength="137.70" lengthAdjust="spacingAndGlyphs" stroke="#fff" stroke-width="0.35">Recommendation</text>
<text x="322.85" y="633.80" font-family="Liberation Serif" font-size="17.4" font-weight="bold" fill="#000" textLength="87.57" lengthAdjust="spacingAndGlyphs" stroke="#fff" stroke-width="0.35">Instruction</text>
<text x="417.60" y="633.80" font-family="Liberation Serif" font-size="17.4" font-weight="bold" fill="#000" textLength="80.68" lengthAdjust="spacingAndGlyphs" stroke="#fff" stroke-width="0.35">Following</text>
<text x="661.43" y="607.00" font-family="Liberation Serif" font-size="17.4" font-weight="bold" fill="#000" textLength="82.60" lengthAdjust="spacingAndGlyphs" stroke="#fff" stroke-width="0.35">Reasoning</text>
<text x="1127.05" y="47.20" font-family="Liberation Serif" font-size="18.8" font-weight="bold" fill="#000" textLength="42.79" lengthAdjust="spacingAndGlyphs" stroke="#fff" stroke-width="0.35">Ours</text>
<text x="1269.80" y="47.20" font-family="Liberation Serif" font-size="18.8" font-weight="bold" fill="#000" textLength="62.09" lengthAdjust="spacingAndGlyphs" stroke="#fff" stroke-width="0.35">LC-Rec</text>
<text x="1431.10" y="47.20" font-family="Liberation Serif" font-size="18.8" font-weight="bold" fill="#000" textLength="58.73" lengthAdjust="spacingAndGlyphs" stroke="#fff" stroke-width="0.35">TIGER</text>
<text x="1588.63" y="47.20" font-family="Liberation Serif" font-size="18.8" font-weight="bold" fill="#000" textLength="68.91" lengthAdjust="spacingAndGlyphs" stroke="#fff" stroke-width="0.35">SASRec</text>
<text x="851.51" y="642.60" font-family="Liberation Serif" font-size="22.4" font-weight="bold" fill="#2b3a55" textLength="49.47" lengthAdjust="spacingAndGlyphs" stroke="#fff" stroke-width="0.35">Baby</text>
<text x="947.97" y="642.60" font-family="Liberation Serif" font-size="22.4" font-weight="bold" fill="#2b3a55" textLength="69.22" lengthAdjust="spacingAndGlyphs" stroke="#fff" stroke-width="0.35">Beauty</text>
<text x="1068.41" y="642.60" font-family="Liberation Serif" font-size="22.4" font-weight="bold" fill="#2b3a55" textLength="42.21" lengthAdjust="spacingAndGlyphs" stroke="#fff" stroke-width="0.35">Cell</text>
<text x="1155.69" y="642.60" font-family="Liberation Serif" font-size="22.4" font-weight="bold" fill="#2b3a55" textLength="80.07" lengthAdjust="spacingAndGlyphs" stroke="#fff" stroke-width="0.35">Grocery</text>
<text x="1268.62" y="642.60" font-family="Liberation Serif" font-size="22.4" font-weight="bold" fill="#2b3a55" textLength="69.72" lengthAdjust="spacingAndGlyphs" stroke="#fff" stroke-width="0.35">Health</text>
<text x="1379.74" y="642.60" font-family="Liberation Serif" font-size="22.4" font-weight="bold" fill="#2b3a55" textLength="60.47" lengthAdjust="spacingAndGlyphs" stroke="#fff" stroke-width="0.35">Home</text>
<text x="1500.66" y="642.60" font-family="Liberation Serif" font-size="22.4" font-weight="bold" fill="#2b3a55" textLength="32.32" lengthAdjust="spacingAndGlyphs" stroke="#fff" stroke-width="0.35">Pet</text>
<text x="1591.55" y="642.60" font-family="Liberation Serif" font-size="22.4" font-weight="bold" fill="#2b3a55" textLength="65.07" lengthAdjust="spacingAndGlyphs" stroke="#fff" stroke-width="0.35">Sports</text>
<text x="1704.00" y="642.60" font-family="Liberation Serif" font-size="22.4" font-weight="bold" fill="#2b3a55" textLength="55.04" lengthAdjust="spacingAndGlyphs" stroke="#fff" stroke-width="0.35">Tools</text>
<text x="1814.50" y="642.60" font-family="Liberation Serif" font-size="22.4" font-weight="bold" fill="#2b3a55" textLength="48.69" lengthAdjust="spacingAndGlyphs" stroke="#fff" stroke-width="0.35">Toys</text>
<text transform="translate(767.7,269.1) rotate(-90)" x="-0.78" y="0" font-family="Liberation Serif" font-size="22" font-weight="bold" fill="#2b3a55" textLength="28.70" lengthAdjust="spacingAndGlyphs">(%)</text>
<text transform="translate(767.7,385.2) rotate(-90)" x="-1.05" y="0" font-family="Liberation Serif" font-size="22" font-weight="bold" fill="#2b3a55" textLength="106.62" lengthAdjust="spacingAndGlyphs">Recall@10</text>
</svg></body></html>
